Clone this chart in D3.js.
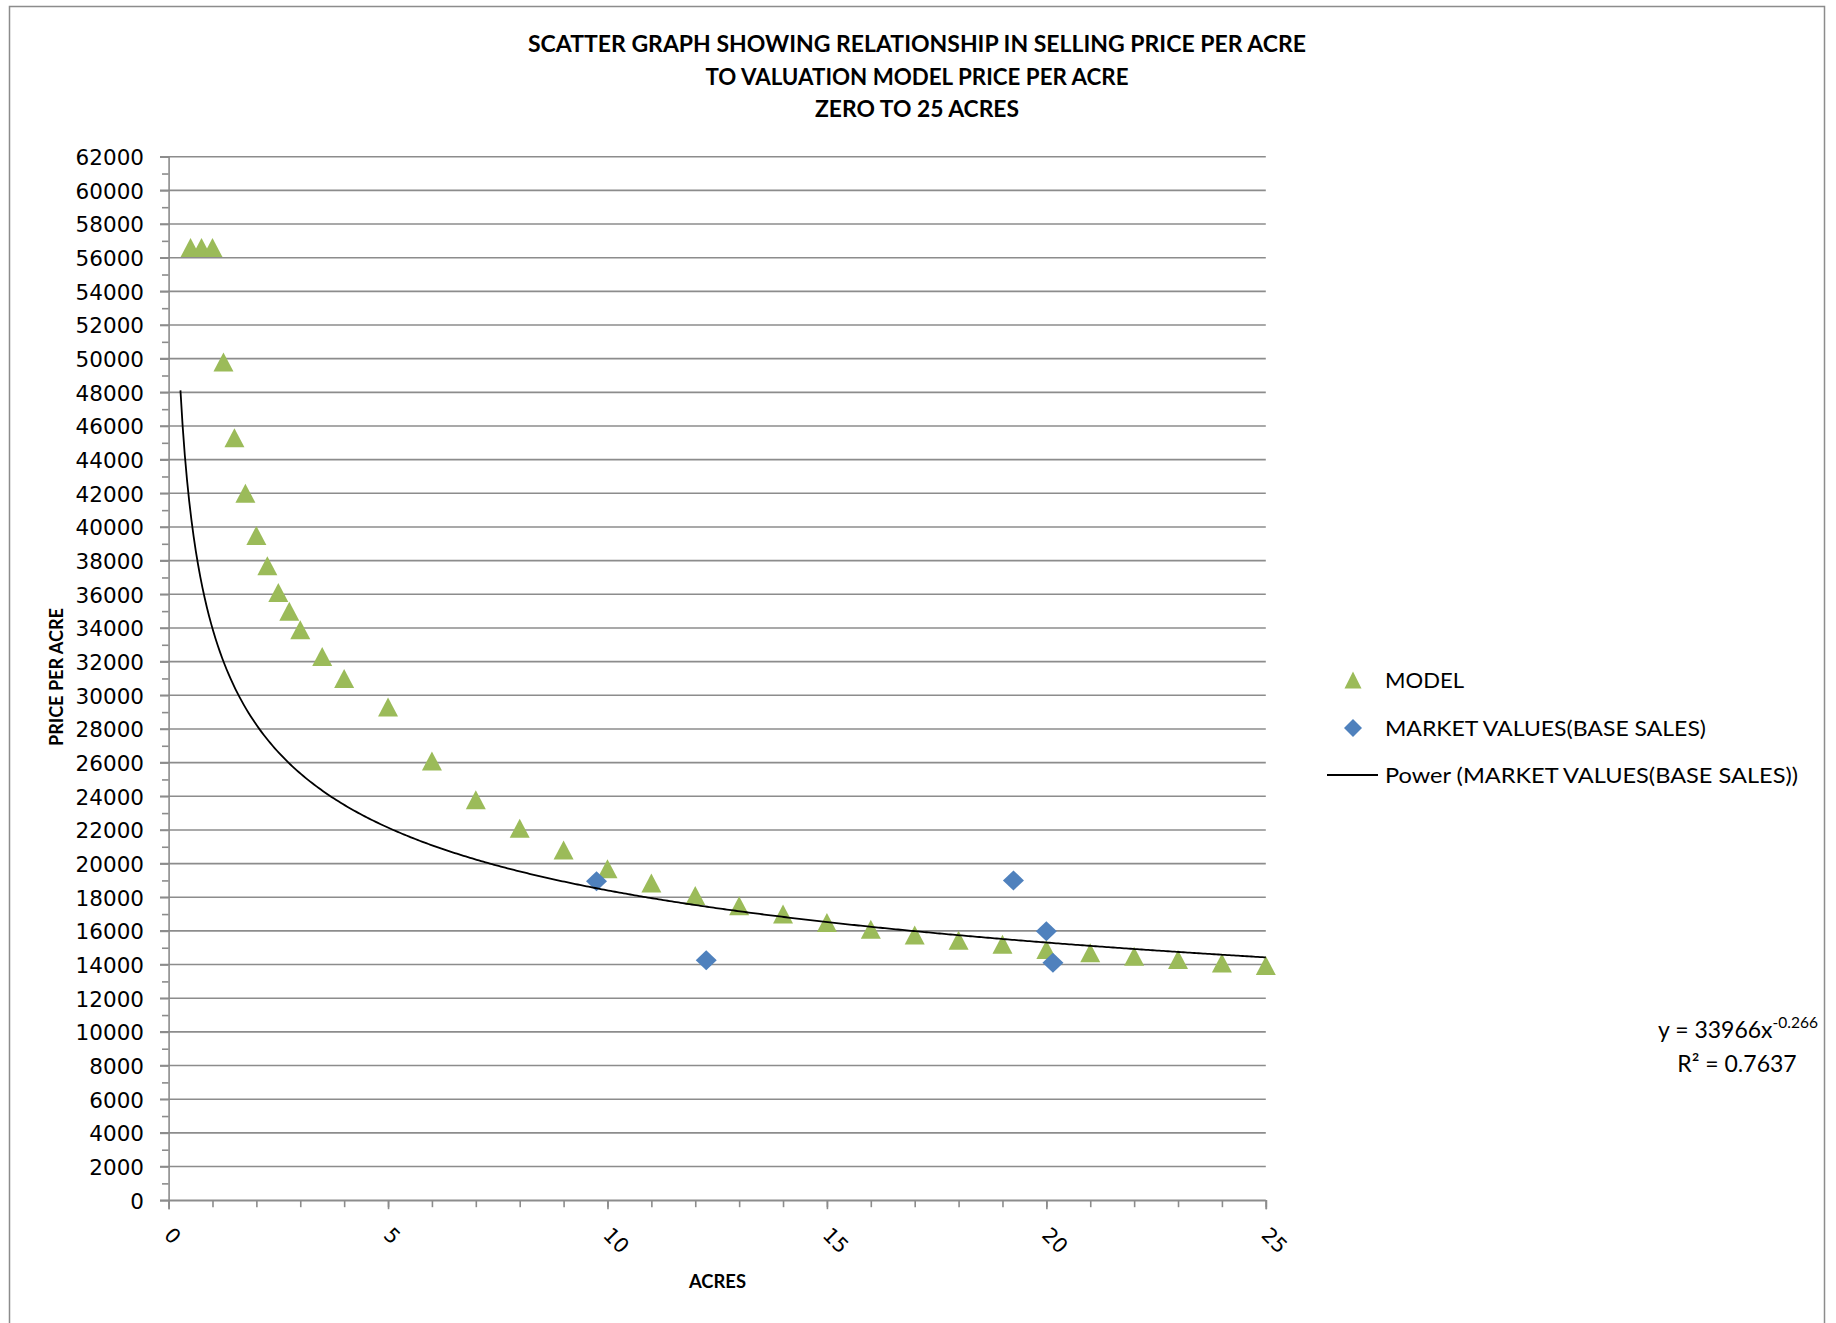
<!DOCTYPE html>
<html>
<head>
<meta charset="utf-8">
<script src="https://cdn.jsdelivr.net/npm/d3@7"></script>
<style>
  body { margin: 0; background: #fff; }
  svg { display: block; }
</style>
</head>
<body>
<div id="chart"></div>
<script>
// Model price per acre by acreage
const modelAcres = [0.5, 0.75, 1, 1.25, 1.5, 1.75, 2, 2.25, 2.5, 2.75, 3, 3.5, 4, 5, 6, 7, 8, 9, 10,
    11, 12, 13, 14, 15, 16, 17, 18, 19, 20, 21, 22, 23, 24, 25];
const modelPrice = [56600, 56600, 56600, 49800, 45300, 42000, 39500, 37700, 36100, 35000, 33900, 32300, 31000, 29300, 26100, 23800, 22100, 20800, 19700,
    18850, 18100, 17500, 17000, 16500, 16100, 15750, 15450, 15200, 14900, 14700, 14500, 14300, 14100, 13950];

// Market values (base sales)
const marketAcres = [9.75, 12.25, 19.25, 20, 20.15];
const marketPrice = [18950, 14260, 19000, 15980, 14110];

// Power trendline shown on the chart
const trendCoef = 33966;
const trendExp = -0.266;
const trendR2 = "0.7637";
const trendFrom = 0.27;
const trendTo = 25;

const xTicks = [0, 5, 10, 15, 20, 25];
const yTicks = [0, 2000, 4000, 6000, 8000, 10000, 12000, 14000, 16000, 18000, 20000, 22000, 24000, 26000, 28000, 30000,
    32000, 34000, 36000, 38000, 40000, 42000, 44000, 46000, 48000, 50000, 52000, 54000, 56000, 58000, 60000, 62000];

const titleLines = ["SCATTER GRAPH SHOWING RELATIONSHIP IN SELLING PRICE PER ACRE",
    "TO VALUATION MODEL PRICE PER ACRE", "ZERO TO 25 ACRES"];
const legendLabels = ["MODEL", "MARKET VALUES(BASE SALES)", "Power (MARKET VALUES(BASE SALES))"];

const width = 1836;
const height = 1323;
const plot = { left: 168.6, right: 1265.8, top: 156.7, bottom: 1200.2 };
const gridColour = "#8c8c8c";
const green = "#9BBB59";
const blue = "#4F81BD";
const textFont = "Lato, 'Open Sans', sans-serif";

const svg = d3.select("#chart")
    .append("svg")
    .attr("width", width)
    .attr("height", height)
    .attr("viewBox", [0, 0, width, height]);

// Chart area border
svg.append("rect")
    .attr("x", 9.5)
    .attr("y", 6.5)
    .attr("width", 1815)
    .attr("height", 1330)
    .attr("fill", "#fff")
    .attr("stroke", gridColour)
    .attr("stroke-width", 1.5);

// Scales
const xScale = d3.scaleLinear().domain([0, 25]).range([plot.left, plot.right]);
const yScale = d3.scaleLinear().domain([0, 62000]).range([plot.bottom, plot.top]);

// Gridlines
svg.append("g")
    .selectAll("line")
    .data(yTicks)
    .enter()
    .append("line")
    .attr("x1", plot.left - 8.6)
    .attr("x2", plot.right)
    .attr("y1", d => yScale(d))
    .attr("y2", d => yScale(d))
    .attr("stroke", gridColour)
    .attr("stroke-width", 1.6);

// Y axis, major and minor ticks
const yAxis = d3.axisLeft(yScale)
    .tickValues(yTicks)
    .tickSize(8.6)
    .tickPadding(16)
    .tickFormat(d3.format("d"));

const yAxisG = svg.append("g")
    .attr("transform", "translate(" + plot.left + ",0)")
    .call(yAxis);

svg.append("g")
    .attr("transform", "translate(" + plot.left + ",0)")
    .call(d3.axisLeft(yScale).tickValues(d3.range(1000, 62000, 2000)).tickSize(6.6).tickFormat(""))
    .call(g => g.select(".domain").remove());

// X axis, major and minor ticks
const xAxis = d3.axisBottom(xScale)
    .tickValues(xTicks)
    .tickSize(9)
    .tickFormat(d3.format("d"));

const xAxisG = svg.append("g")
    .attr("transform", "translate(0," + plot.bottom + ")")
    .call(xAxis);

svg.append("g")
    .attr("transform", "translate(0," + plot.bottom + ")")
    .call(d3.axisBottom(xScale).tickValues(d3.range(0, 26, 1)).tickSize(7).tickFormat(""))
    .call(g => g.select(".domain").remove());

svg.selectAll(".domain, .tick line")
    .attr("stroke", gridColour)
    .attr("stroke-width", 1.6);

yAxisG.selectAll("text")
    .attr("font-family", "'DejaVu Sans', sans-serif")
    .attr("font-size", 21.5)
    .attr("fill", "#000")
    .attr("dy", "0.37em");

xAxisG.selectAll("text")
    .attr("font-family", "'DejaVu Sans', sans-serif")
    .attr("font-size", 20.5)
    .attr("fill", "#000")
    .attr("text-anchor", "start")
    .attr("x", -6)
    .attr("y", 36)
    .attr("dy", 0)
    .attr("transform", "rotate(45 -6 36)");

// Marker shapes, centred on the point
const triangle = (w, h) => `M0,${-h / 2}L${w / 2},${h / 2}L${-w / 2},${h / 2}Z`;
const diamond = (w, h) => `M0,${-h / 2}L${w / 2},0L0,${h / 2}L${-w / 2},0Z`;

// Model triangles
svg.append("g")
    .selectAll("path")
    .data(modelAcres.map((a, i) => [a, modelPrice[i]]))
    .enter()
    .append("path")
    .attr("transform", d => "translate(" + xScale(d[0]) + "," + yScale(d[1]) + ")")
    .attr("d", triangle(20, 19))
    .attr("fill", green);

// Market diamonds
svg.append("g")
    .selectAll("path")
    .data(marketAcres.map((a, i) => [a, marketPrice[i]]))
    .enter()
    .append("path")
    .attr("transform", d => "translate(" + xScale(d[0]) + "," + yScale(d[1]) + ")")
    .attr("d", diamond(21, 20))
    .attr("fill", blue);

// Power trendline
const trendX = d3.range(trendFrom, trendTo, 0.05).concat([trendTo]);
const trendLine = d3.line()
    .x(d => xScale(d))
    .y(d => yScale(trendCoef * Math.pow(d, trendExp)));

svg.append("path")
    .datum(trendX)
    .attr("d", trendLine)
    .attr("fill", "none")
    .attr("stroke", "#000")
    .attr("stroke-width", 1.8);

// Title
const titleWidths = [778, 423, 204];
svg.append("g")
    .selectAll("text")
    .data(titleLines)
    .enter()
    .append("text")
    .attr("x", 917)
    .attr("y", (d, i) => 52 + i * 32.5)
    .attr("text-anchor", "middle")
    .attr("font-family", textFont)
    .attr("font-weight", 700)
    .attr("font-size", 22)
    .attr("textLength", (d, i) => titleWidths[i])
    .attr("lengthAdjust", "spacingAndGlyphs")
    .text(d => d);

// Axis titles
svg.append("text")
    .attr("x", 717.5)
    .attr("y", 1288)
    .attr("text-anchor", "middle")
    .attr("font-family", textFont)
    .attr("font-weight", 700)
    .attr("font-size", 19)
    .attr("textLength", 57)
    .attr("lengthAdjust", "spacingAndGlyphs")
    .text("ACRES");

svg.append("text")
    .attr("transform", "translate(63,677) rotate(-90)")
    .attr("text-anchor", "middle")
    .attr("font-family", textFont)
    .attr("font-weight", 700)
    .attr("font-size", 19)
    .attr("textLength", 138)
    .attr("lengthAdjust", "spacingAndGlyphs")
    .text("PRICE PER ACRE");

// Legend
const legend = svg.append("g");
const legendY = [680, 728, 775];
const legendWidths = [79, 321, 413];

legend.append("path")
    .attr("transform", "translate(1353," + legendY[0] + ")")
    .attr("d", triangle(17, 17))
    .attr("fill", green);

legend.append("path")
    .attr("transform", "translate(1353," + legendY[1] + ")")
    .attr("d", diamond(18, 18))
    .attr("fill", blue);

legend.append("line")
    .attr("x1", 1327)
    .attr("x2", 1378)
    .attr("y1", legendY[2])
    .attr("y2", legendY[2])
    .attr("stroke", "#000")
    .attr("stroke-width", 1.8);

legend.selectAll("text")
    .data(legendLabels)
    .enter()
    .append("text")
    .attr("x", 1385)
    .attr("y", (d, i) => legendY[i] + 7.5)
    .attr("font-family", textFont)
    .attr("font-size", 21.5)
    .attr("textLength", (d, i) => legendWidths[i])
    .attr("lengthAdjust", "spacingAndGlyphs")
    .text(d => d);

// Trendline equation
const equation = svg.append("text")
    .attr("x", 1738)
    .attr("y", 1038)
    .attr("text-anchor", "middle")
    .attr("font-family", textFont)
    .attr("font-size", 23);
equation.append("tspan").text("y = " + trendCoef + "x");
equation.append("tspan")
    .attr("font-size", 15.5)
    .attr("dy", -10)
    .text(trendExp);

svg.append("text")
    .attr("x", 1737)
    .attr("y", 1072)
    .attr("text-anchor", "middle")
    .attr("font-family", textFont)
    .attr("font-size", 23)
    .text("R² = " + trendR2);
</script>
</body>
</html>
